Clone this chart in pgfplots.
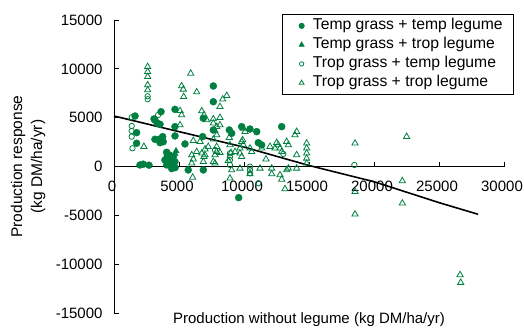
\documentclass[border=0pt]{standalone}
\usepackage{fontspec}
\setmainfont{Liberation Sans}
\usepackage{pgfplots}
\pgfplotsset{compat=1.18}
\definecolor{gr}{RGB}{0,128,64}
\newcommand{\F}{\fontsize{15}{20}\selectfont}
\newcommand{\FY}{\fontsize{15.5}{20}\selectfont}
\newcommand{\FL}{\fontsize{15.7}{19}\selectfont}

\begin{document}
\begin{tikzpicture}
\begin{axis}[name=ax,
 width=390pt, height=293.3pt, scale only axis,
 xmin=0, xmax=30000, ymin=-15000, ymax=15000,
 axis x line=middle, axis y line=left,
 axis line style={-, line width=0.8pt, black},
 xtick={0,5000,...,30000}, ytick={-15000,-10000,...,15000},
 hide obscured x ticks=false, hide obscured y ticks=false,
 scaled ticks=false,
 tick align=inside, major tick length=5pt,
 every tick/.style={black, line width=0.8pt},
 tick label style={font=\F},
 /pgf/number format/1000 sep={},
 /pgf/number format/assume math mode=true,
 xticklabel style={anchor=north, yshift=-11pt, xshift=-2pt},
 yticklabel style={anchor=east, xshift=-8pt},
 xlabel={Production without legume (kg DM/ha/yr)},
 xlabel style={at={(axis description cs:0.5,0)}, anchor=north, font=\F, inner sep=0pt, yshift=0.5pt},
 ylabel={Production response\\(kg DM/ha/yr)},
 ylabel style={at={(axis description cs:-0.2205,0.5)}, anchor=center, align=center, font=\FY},
 clip=false,
 legend cell align=left,
 legend image code/.code={\path[draw=none,fill=none] (-8.7pt,0) -- (11.3pt,0); \draw[#1] plot coordinates {(0pt,0pt)};},
 legend style={at={(axis description cs:1.026,1.0205)}, anchor=north east, draw=black, line width=0.8pt,
   font=\FL, inner xsep=11pt, inner ysep=4pt, row sep=4pt,
   nodes={inner sep=0pt, text height=11pt, text depth=4pt},
   /tikz/every even column/.append style={column sep=0pt}},
]
% Temp grass + temp legume
\addplot[only marks, mark=*, mark size=3.5pt, color=gr, fill=gr, legend image post style={mark size=2.6pt}] coordinates {
(1620,5180)(1740,3480)(1740,2390)(2000,170)(2250,250)(2690,150)
(3620,5620)(3080,4880)(3330,4440)(3540,4330)(3150,4770)
(3150,2800)(3480,2800)(3740,3070)(3540,2450)(3790,2550)(3670,2830)
(4690,3140)(4690,4090)(5460,2320)(4690,5860)
(7640,8250)(7640,6640)(6870,4950)(6820,3070)(7640,3750)(8870,3750)(9050,3410)
(4050,1470)(4250,1200)(4560,1020)(3920,680)(4310,510)(4690,510)(4050,170)(4440,170)(4200,900)(4100,1100)
(4440,-200)(4700,-100)(5710,-340)(6870,-340)(9590,-3170)
(9820,4090)(10460,3850)(10980,3580)(12900,4090)(11100,2450)(11360,2220)
};
\addlegendentry{Temp grass + temp legume}
% Temp grass + trop legume
\addplot[only marks, mark=triangle*, mark size=3.6pt, color=gr, fill=gr, legend image post style={mark size=2.8pt}] coordinates {
(4770,1600)(4700,1300)
};
\addlegendentry{Temp grass + trop legume}
% Trop grass + temp legume
\addplot[only marks, mark=o, mark size=2.7pt, line width=0.8pt, color=gr, legend image post style={mark size=2.2pt}] coordinates {
(2590,7200)(2590,6900)(1360,5050)(1360,4160)(1360,3650)(1360,3070)(1420,1880)(3390,5280)
(7770,1700)(8920,1370)(8920,1020)(8920,680)(8920,170)
(10460,0)(10460,-340)(10460,-680)(11100,-1700)(13020,1300)(18490,170)
};
\addlegendentry{Trop grass + temp legume}
% Trop grass + trop legume
\addplot[only marks, mark=triangle, mark size=3.6pt, line width=0.8pt, color=gr, legend image post style={mark size=2.8pt}] coordinates {
(2590,10220)(2590,9710)(2590,9200)(2590,8350)(2590,7840)
(5900,9540)(5200,8250)(5330,7910)(5360,7150)(6360,7630)
(8360,6890)(8670,7260)(8150,6130)
(5080,5720)(5200,5280)(5080,4260)(6750,5690)(6920,5280)(7130,4770)(7640,4870)(8150,5010)
(6100,2660)(6620,2560)(7640,4440)(7900,4090)(8150,4260)(7770,3650)(7900,3240)
(7640,2800)(7250,2050)(7900,2050)(7900,1530)(8150,1430)(7770,350)
(8870,2970)(8920,2220)(9000,1430)(8790,610)
(5980,1200)(6360,1530)(6750,1370)(7000,1780)(6920,1020)(6100,760)(5980,350)
(2300,2050)(6050,-1100)(7000,1200)(6870,510)(7770,1200)(7640,510)
(9950,3920)(10080,3580)(9820,2560)(9950,2220)(9690,1880)(9310,1530)(9690,1370)(9820,1020)
(10460,1880)(10590,1530)(11360,1880)(12000,2050)(12380,1880)(12640,2220)(12770,1880)(12900,1530)
(13280,2560)(13410,2220)(13920,3240)(14050,3580)(9900,2730)(12510,2450)(11690,760)
(14050,1200)(14050,-170)
(14820,2390)(14820,1880)(14820,1370)(14820,850)(14820,350)
(8920,-1190)(9050,-340)(9690,-170)(10460,-750)
(11230,-170)(12130,-750)(12770,-850)(12900,-1300)(13280,-340)(13150,-2280)(13410,-170)(12130,-170)
(18540,2390)(18540,-2560)(18540,-4870)(22510,3070)(22180,-1460)(22180,-3740)(26620,-11070)(26670,-11860)
};
\addlegendentry{Trop grass + trop legume}
% fitted line
\addplot[black, line width=1.6pt, no marks, forget plot] coordinates {
(0,5180)(5000,3580)(10000,2000)(15000,120)(20000,-1540)(25000,-3680)(28000,-4870)
};
\end{axis}
\pgfresetboundingbox
\path[use as bounding box] ([shift={(-114pt,-14.7pt)}]ax.south west) rectangle ([shift={(20pt,20pt)}]ax.north east);
\end{tikzpicture}
\end{document}
